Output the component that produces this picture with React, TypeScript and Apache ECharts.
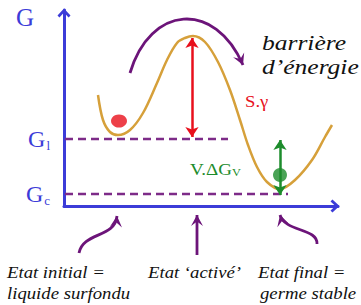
import React, { useEffect, useRef } from "react";
import * as echarts from "echarts";

// Free enthalpy G along the nucleation path (arbitrary units)
const curveX = [34, 39, 46, 54, 66, 79, 93, 103, 113, 121, 129, 141, 154, 166, 176, 184, 193, 203, 216, 231, 248, 261, 268];
const curveG = [111, 86, 74, 71, 76, 93, 123, 146, 163, 168, 170, 164, 144, 116, 86, 61, 39, 24, 17, 26, 46, 69, 81];

// Energy levels G_l and G_c
const levelSubs = ["l", "c"];
const levelValues = [67, 12];
const levelEnds = [164, 224];

// States: red ball (initial liquid), green ball (final nucleus)
const redDot = [55, 85];
const greenDot = [216, 31];

// Vertical arrows: [x, from, to]
const barrierArrow = [128, 168, 69]; // S.γ
const drivingArrow = [216, 66, 11]; // V.ΔGv

const barrierText = ["barrière", "d’énergie"];
const stateLabels = [["Etat initial =", "liquide surfondu"], ["Etat ‘activé’"], ["Etat final =", "germe stable"]];

// Annotation arrows geometry (in data units of the chart)
const topArc = [[66, 133], [86, 201], [151, 206], [179, 141]];
const bottomArrows = [
  [[15, -47], [19, -26], [51, -32], [53, -10]],
  [[133, -49], [133, -9]],
  [[253, -38], [254, -22], [221, -26], [216, -9]],
];

const AXIS = "#3c3cd8";
const PURPLE = "#6c1479";
const DASH = "#7d2b88";
const GOLD = "#d6a03a";
const RED = "#e8101c";
const GREEN = "#1d8c2c";
const SERIF = "Liberation Serif";
const CHEVRON = "path://M6,0 L12,6.5 L10.2,8.3 L6,3.8 L1.8,8.3 L0,6.5 Z";

function head(tip: number[], from: number[], L = 11, W = 6) {
  const dx = tip[0] - from[0];
  const dy = tip[1] - from[1];
  const len = Math.hypot(dx, dy) || 1;
  const ux = dx / len, uy = dy / len;
  const nx = -uy, ny = ux;
  return [
    tip,
    [tip[0] - ux * L + nx * W, tip[1] - uy * L + ny * W],
    [tip[0] - ux * L * 0.6, tip[1] - uy * L * 0.6],
    [tip[0] - ux * L - nx * W, tip[1] - uy * L - ny * W],
  ];
}

export default function App() {
  const ref = useRef<HTMLDivElement>(null);
  useEffect(() => {
    if (!ref.current) return;
    const chart = echarts.init(ref.current, null, { renderer: "svg" });
    const axisLine = {
      show: true,
      onZero: false,
      lineStyle: { color: AXIS, width: 3 },
      symbol: ["none", CHEVRON],
      symbolSize: [13, 9],
      symbolOffset: [0, -3],
    };
    const option: any = {
      animation: false,
      backgroundColor: "#ffffff",
      grid: { left: 64, top: 10, right: 23, bottom: 99, containLabel: false, outerBoundsMode: "none" },
      xAxis: {
        type: "value",
        min: 0,
        max: 274,
        axisLine,
        axisTick: { show: false },
        axisLabel: { show: false },
        splitLine: { show: false },
      },
      yAxis: {
        type: "value",
        min: 0,
        max: 196,
        name: "G",
        nameLocation: "end",
        nameGap: -20,
        nameTextStyle: { fontFamily: SERIF, fontSize: 25, color: AXIS, padding: [0, 78, 0, 0] },
        axisLine,
        axisTick: { show: false },
        splitLine: { show: false },
        axisLabel: {
          show: true,
          customValues: levelValues,
          margin: 14,
          formatter: (v: number) => {
            const i = levelValues.indexOf(v);
            return i < 0 ? "" : "{g|G}{s|" + levelSubs[i] + "}";
          },
          rich: {
            g: { fontFamily: SERIF, fontSize: 24, color: AXIS },
            s: { fontFamily: SERIF, fontSize: 13, color: AXIS, padding: [12, 0, 0, 1] },
          },
        },
      },
      series: [
        ...levelValues.map((v, i) => ({
          type: "line",
          data: [[1, v], [levelEnds[i], v]],
          showSymbol: false,
          silent: true,
          lineStyle: { color: DASH, width: 2.5, type: [8, 5] },
          z: 1,
        })),
        {
          type: "line",
          data: curveX.map((x, i) => [x, curveG[i]]),
          smooth: 0.35,
          showSymbol: false,
          lineStyle: { color: GOLD, width: 2.5 },
          z: 2,
        },
        {
          type: "lines",
          coordinateSystem: "cartesian2d",
          symbol: ["arrow", "arrow"],
          symbolSize: 10,
          z: 3,
          data: [
            { coords: [[barrierArrow[0], barrierArrow[1]], [barrierArrow[0], barrierArrow[2]]], lineStyle: { color: RED, width: 2.5, opacity: 1 } },
            { coords: [[drivingArrow[0], drivingArrow[1]], [drivingArrow[0], drivingArrow[2]]], lineStyle: { color: GREEN, width: 2.5, opacity: 1 } },
          ],
        },
        {
          type: "scatter",
          data: [
            { value: redDot, symbolSize: [16, 13], itemStyle: { color: RED } },
            { value: greenDot, symbolSize: [14, 14], itemStyle: { color: GREEN } },
          ],
          z: 4,
        },
      ],
    };
    chart.setOption(option);

    const px = (p: number[]) => chart.convertToPixel({ gridIndex: 0 }, p) as number[];
    const graphics: any[] = [];
    const addBezier = (pts: number[][]) => {
      const P = pts.map(px);
      if (P.length === 4) {
        graphics.push({
          type: "bezierCurve",
          shape: { x1: P[0][0], y1: P[0][1], cpx1: P[1][0], cpy1: P[1][1], cpx2: P[2][0], cpy2: P[2][1], x2: P[3][0], y2: P[3][1] },
          style: { stroke: PURPLE, lineWidth: 2.8, fill: "none" },
        });
      } else {
        graphics.push({
          type: "line",
          shape: { x1: P[0][0], y1: P[0][1], x2: P[1][0], y2: P[1][1] },
          style: { stroke: PURPLE, lineWidth: 2.8 },
        });
      }
      const tip = P[P.length - 1];
      graphics.push({ type: "polygon", shape: { points: head(tip, P[P.length - 2]) }, style: { fill: PURPLE } });
    };
    addBezier(topArc);
    bottomArrows.forEach(addBezier);

    const text = (t: string, x: number, y: number, size: number, color: string, italic: boolean, stretch: number) => ({
      type: "text",
      x,
      y,
      scaleX: stretch,
      style: {
        text: "{t|" + t + "}",
        align: "left",
        verticalAlign: "middle",
        rich: {
          t: { fontFamily: SERIF, fontSize: size, fontStyle: italic ? "italic" : "normal", fill: color, color },
        },
      },
    });
    graphics.push(text(barrierText[0], 262, 43, 22, "#111", true, 1.16));
    graphics.push(text(barrierText[1], 262, 67, 22, "#111", true, 1.16));
    graphics.push(text("S.γ", 245, 101, 17, RED, false, 1.1));
    graphics.push({
      type: "text",
      x: 190,
      y: 169,
      scaleX: 1.12,
      style: {
        text: "{n|V.ΔG}{s|V}",
        align: "left",
        verticalAlign: "middle",
        rich: {
          n: { fontFamily: SERIF, fontSize: 17, fill: GREEN, color: GREEN },
          s: { fontFamily: SERIF, fontSize: 11, fill: GREEN, color: GREEN, padding: [8, 0, 0, 0] },
        },
      },
    });
    const labelPos = [[[7, 272], [7, 293]], [[148, 272]], [[258, 272], [260, 293]]];
    stateLabels.forEach((lines, i) =>
      lines.forEach((l, j) => graphics.push(text(l, labelPos[i][j][0], labelPos[i][j][1], 17.5, "#111", true, 1.07)))
    );
    chart.setOption({ graphic: graphics });
    return () => chart.dispose();
  }, []);
  return <div ref={ref} style={{ position: "fixed", left: 0, top: 0, width: 361, height: 305, background: "#fff" }} />;
}
